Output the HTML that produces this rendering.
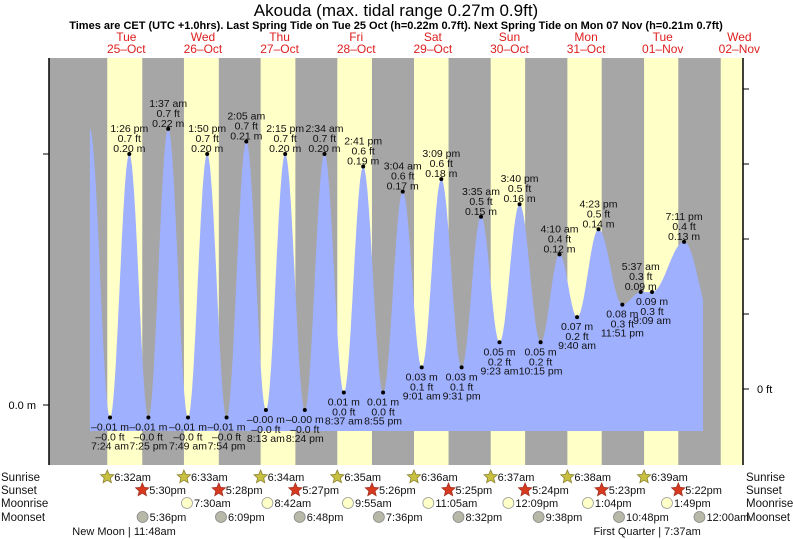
<!DOCTYPE html>
<html><head><meta charset="utf-8"><style>
html,body{margin:0;padding:0;background:#fff;}
svg{display:block;font-family:"Liberation Sans",sans-serif;}
</style></head><body>
<svg id="c" width="793" height="539" viewBox="0 0 793 539" xmlns="http://www.w3.org/2000/svg">
<text x="396" y="16" font-size="17" text-anchor="middle" fill="#000">Akouda (max. tidal range 0.27m 0.9ft)</text>
<text x="396" y="29" font-size="11" font-weight="bold" text-anchor="middle" fill="#000">Times are CET (UTC +1.0hrs). Last Spring Tide on Tue 25 Oct (h=0.22m 0.7ft). Next Spring Tide on Mon 07 Nov (h=0.21m 0.7ft)</text>
<g id="bands"></g>
<g id="tide"></g>
<g id="axes"></g>
<g id="labels"></g>
<g id="days"></g>
<g id="astro"></g>
</svg>
<script>
// ---- data ----
const dayNames = ['Tue','Wed','Thu','Fri','Sat','Sun','Mon','Tue','Wed'];
const dayDates = ['25-Oct','26-Oct','27-Oct','28-Oct','29-Oct','30-Oct','31-Oct','01-Nov','02-Nov'];
const tideDay = [0,0,0,1,1,1,1,2,2,2,2,3,3,3,3,4,4,4,4,5,5,5,5,6,6,6,6,7,7,7];
const tideClock = ['07:24','13:26','19:25','01:37','07:49','13:50','19:54','02:05','08:13','14:15','20:24','02:34','08:37','14:41','20:55','03:04','09:01','15:09','21:31','03:35','09:23','15:40','22:15','04:10','09:40','16:23','23:51','05:37','09:09','19:11'];
const tideM = [-0.01,0.20,-0.01,0.22,-0.01,0.20,-0.01,0.21,-0.004,0.20,-0.004,0.20,0.01,0.19,0.01,0.17,0.03,0.18,0.03,0.15,0.05,0.16,0.05,0.12,0.07,0.14,0.08,0.09,0.09,0.13];
const tideHigh = [0,1,0,1,0,1,0,1,0,1,0,1,0,1,0,1,0,1,0,1,0,1,0,1,0,1,0,1,0,1];
const curveStart = [1.1, 0.22];
const curveEnd = [193.1, 197, 0.06];
const sunrise = ['06:32','06:33','06:34','06:35','06:36','06:37','06:38','06:39','06:40'];
const sunset = ['17:30','17:28','17:27','17:26','17:25','17:24','17:23','17:22'];
const moonriseDay = [1,2,3,4,5,6,7];
const moonrise = ['07:30','08:42','09:55','11:05','12:09','13:04','13:49'];
const moonsetDay = [0,1,2,3,4,5,6,8];
const moonset = ['17:36','18:09','18:48','19:36','20:32','21:38','22:48','00:00'];
const phaseDay = [0,7];
const phaseClock = ['11:48','07:37'];
const phaseName = ['New Moon','First Quarter'];
const ftTicks = [0,0.2,0.4,0.6,0.8,1.0];
const mTicks = [0,0.2];

// ---- scales ----
const X0=49, X1=743, Y0=58, Y1=465, FILLB=431;
const xT = t => 86.4 + t*3.193;
const yM = m => 405 - m*1255;
const yFt = f => 389 - f*375;
const NS='http://www.w3.org/2000/svg';
function mk(tag, attrs, parent, txt){const e=document.createElementNS(NS,tag);for(const k in attrs)e.setAttribute(k,attrs[k]);if(txt!==undefined)e.textContent=txt;parent.appendChild(e);return e;}
const hrs = s => {const p=s.split(':');return +p[0]+ +p[1]/60;};
function fmt(s, sp){let h=+s.split(':')[0], m=s.split(':')[1];const ap=h>=12?'pm':'am';h=h%12;if(h===0)h=12;return h+':'+m+(sp?' ':'')+ap;}
const dash = s => s.replace('-','\u2013');

// bands
const bands=document.getElementById('bands');
let r=mk('rect',{x:X0,y:Y0,width:X1-X0,height:Y1-Y0,fill:'#a6a6a6'},bands);


for(let d=0;d<9;d++){
  const a=xT(d*24+hrs(sunrise[d]));
  const b=d<sunset.length?xT(d*24+hrs(sunset[d])):X1;
  const x=Math.max(a,X0), w=Math.min(b,X1)-x;
  if(w<=0)continue;
  const e=mk('rect',{x:x,y:Y0,width:w,height:Y1-Y0,fill:'#ffffc8'},bands);
  
  
}

// tide curve
const ext=[curveStart];
for(let i=0;i<tideM.length;i++)ext.push([tideDay[i]*24+hrs(tideClock[i]),tideM[i]]);
ext.push([curveEnd[1],curveEnd[2]]);
function hAt(t){for(let i=0;i<ext.length-1;i++){const a=ext[i],b=ext[i+1];if(t>=a[0]&&t<=b[0]){const f=(t-a[0])/(b[0]-a[0]);return a[1]+(b[1]-a[1])*(1-Math.cos(Math.PI*f))/2;}}return ext[ext.length-1][1];}
let d='M'+xT(curveStart[0]).toFixed(1)+','+FILLB;
for(let t=curveStart[0];t<=curveEnd[0];t+=0.2)d+=' L'+xT(t).toFixed(1)+','+yM(hAt(t)).toFixed(1);
d+=' L'+xT(curveEnd[0]).toFixed(1)+','+yM(hAt(curveEnd[0])).toFixed(1)+' L'+xT(curveEnd[0]).toFixed(1)+','+FILLB+' Z';
const tideG=document.getElementById('tide');
const p=mk('path',{d:d,fill:'#9fb0ff'},tideG);



// axes
const ax=document.getElementById('axes');
mk('line',{x1:X0,y1:Y0,x2:X0,y2:Y1,stroke:'#000','stroke-width':1.5},ax);
mk('line',{x1:X1,y1:Y0,x2:X1,y2:Y1,stroke:'#000','stroke-width':1.5},ax);
mTicks.forEach(m=>{mk('line',{x1:X0-6,y1:yM(m),x2:X0,y2:yM(m),stroke:'#000'},ax);});
let lt=mk('text',{x:36,y:yM(0)+4,'font-size':11,'text-anchor':'end'},ax,'0.0 m');


ftTicks.forEach(f=>{if(yFt(f)>Y0)mk('line',{x1:X1,y1:yFt(f),x2:X1+6,y2:yFt(f),stroke:'#000'},ax);});
lt=mk('text',{x:757,y:yFt(0)+4,'font-size':11},ax,'0 ft');



// tide labels
const lg=document.getElementById('labels');
for(let i=0;i<tideM.length;i++){
  const t=tideDay[i]*24+hrs(tideClock[i]), x=xT(t), y=yM(tideM[i]);
  const g=mk('g',{},lg);
  
  
  mk('circle',{cx:x,cy:y,r:2,fill:'#000'},g);
  const mS=dash(tideM[i].toFixed(2))+' m', fS=dash((tideM[i]*3.28084).toFixed(1))+' ft', tS=fmt(tideClock[i],true);
  const lines=tideHigh[i]?[[tS,-22],[fS,-12],[mS,-2]]:[[mS,13],[fS,23],[tS,32]];
  lines.forEach(l=>mk('text',{x:x,y:y+l[1],'font-size':10.5,'text-anchor':'middle',fill:'#111'},g,l[0]));
}

// day labels
const dg=document.getElementById('days');
for(let i=0;i<dayNames.length;i++){
  const x=xT(i*24+12.5);
  const g=mk('g',{},dg);
  
  
  mk('text',{x:x,y:41,'font-size':12,'text-anchor':'middle',fill:'#dd2020'},g,dayNames[i]);
  mk('text',{x:x,y:53,'font-size':12,'text-anchor':'middle',fill:'#dd2020'},g,dash(dayDates[i]));
}

// astro rows
const as=document.getElementById('astro');
const rowY=[477,490,503,517];
['Sunrise','Sunset','Moonrise','Moonset'].forEach((n,i)=>{
  let e=mk('text',{x:1,y:rowY[i]+4,'font-size':11.5,fill:'#111'},as,n);
  
  
  e=mk('text',{x:746,y:rowY[i]+4,'font-size':11.5,fill:'#111'},as,n);
  
  
});
function star(cx,cy,fill){let pts=[];for(let k=0;k<10;k++){const rr=k%2?3.2:7,a=-Math.PI/2+k*Math.PI/5;pts.push((cx+rr*Math.cos(a)).toFixed(1)+','+(cy+rr*Math.sin(a)).toFixed(1));}return pts.join(' ');}
for(let i=0;i<8;i++){
  let x=xT(i*24+hrs(sunrise[i]));
  let g=mk('g',{},as);
  
  
  mk('polygon',{points:star(x,rowY[0],'#c8c040'),fill:'#c8c040',stroke:'#8a8030','stroke-width':0.8},g);
  mk('text',{x:x+7,y:rowY[0]+4,'font-size':11,fill:'#111'},g,fmt(sunrise[i],false));
  x=xT(i*24+hrs(sunset[i]));
  g=mk('g',{},as);
  
  
  mk('polygon',{points:star(x,rowY[1]),fill:'#d83a20',stroke:'#a03020','stroke-width':0.8},g);
  mk('text',{x:x+7,y:rowY[1]+4,'font-size':11,fill:'#111'},g,fmt(sunset[i],false));
}
for(let i=0;i<moonrise.length;i++){
  const x=xT(moonriseDay[i]*24+hrs(moonrise[i]));
  const g=mk('g',{},as);
  
  
  mk('circle',{cx:x,cy:rowY[2],r:5.5,fill:'#ffffc8',stroke:'#999','stroke-width':0.8},g);
  mk('text',{x:x+7,y:rowY[2]+4,'font-size':11,fill:'#111'},g,fmt(moonrise[i],false));
}
for(let i=0;i<moonset.length;i++){
  const x=xT(moonsetDay[i]*24+hrs(moonset[i]));
  const g=mk('g',{},as);
  
  
  mk('circle',{cx:x,cy:rowY[3],r:5.5,fill:'#b8b8a8',stroke:'#888','stroke-width':0.8},g);
  mk('text',{x:x+7,y:rowY[3]+4,'font-size':11,fill:'#111'},g,fmt(moonset[i],false));
}
for(let i=0;i<phaseName.length;i++){
  const x=xT(phaseDay[i]*24+hrs(phaseClock[i]));
  const e=mk('text',{x:x,y:535,'font-size':11,'text-anchor':'middle',fill:'#111'},as,phaseName[i]+' | '+fmt(phaseClock[i],false));
  
  
}
</script>
</body></html>
